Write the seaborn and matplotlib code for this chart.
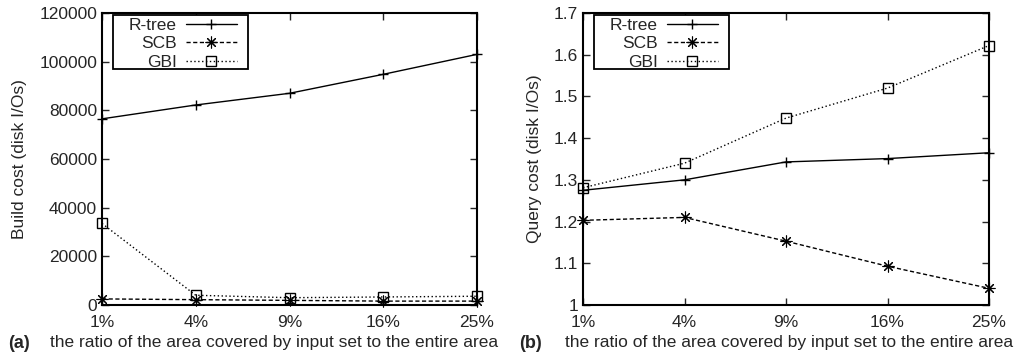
import numpy as np
import matplotlib
matplotlib.use("Agg")
import matplotlib.pyplot as plt
import matplotlib.patches as mpatches
from matplotlib.ticker import FuncFormatter, MultipleLocator
import seaborn as sns

# ── data ────────────────────────────────────────────────────────────
ratios = ["1%", "4%", "9%", "16%", "25%"]
methods = ["R-tree", "SCB", "GBI"]

build_rtree = [76500, 82200, 87000, 94800, 103000]
build_scb = [2500, 2200, 1900, 1600, 1600]
build_gbi = [33500, 4000, 3000, 3300, 3600]

query_rtree = [1.275, 1.300, 1.343, 1.351, 1.365]
query_scb = [1.203, 1.210, 1.153, 1.093, 1.040]
query_gbi = [1.281, 1.340, 1.448, 1.520, 1.622]

# ── style ───────────────────────────────────────────────────────────
sns.set_style("ticks")
plt.rcParams["font.family"] = ["Liberation Sans", "DejaVu Sans"]
plt.rcParams["font.size"] = 12.5

STYLES = {
    "R-tree": dict(marker="+", linestyle="-", ms=7.5, mew=1.0),
    "SCB": dict(marker=(8, 2, 0), linestyle=(0, (3, 1.8)), ms=8.5, mew=0.8),
    "GBI": dict(marker="s", linestyle=(0, (1, 1.8)), ms=7, mew=1.0, mfc="none"),
}

W, H = 1019, 357
fig = plt.figure(figsize=(W / 100, H / 100), dpi=100)
TOP, BOT = 13, 305
ax1 = fig.add_axes([102 / W, (H - BOT) / H, (477 - 102) / W, (BOT - TOP) / H])
ax2 = fig.add_axes([583 / W, (H - BOT) / H, (989 - 583) / W, (BOT - TOP) / H])

pos = np.arange(len(ratios))


def draw(ax, width_px, series, ylim, step, ylabel, fmt, label_x):
    for name, vals in zip(methods, series):
        sns.lineplot(x=pos, y=vals, ax=ax, color="black", lw=1.0,
                     mec="black", label=name, clip_on=False,
                     zorder=3, **STYLES[name])
    ax.set_xlim(0, len(ratios) - 1)
    ax.set_ylim(*ylim)
    ax.set_xticks(pos)
    ax.set_xticklabels(ratios)
    ax.yaxis.set_major_locator(MultipleLocator(step))
    ax.yaxis.set_major_formatter(FuncFormatter(fmt))
    ax.tick_params(direction="in", top=True, right=True, length=5,
                   width=1.0, labelsize=12.5)
    ax.tick_params(axis="x", pad=7)
    ax.tick_params(axis="y", pad=3.5)
    for sp in ax.spines.values():
        sp.set_linewidth(1.5)
        sp.set_color("black")
    ax.set_ylabel(ylabel, fontsize=12.5)
    ax.set_xlabel("")
    ax.yaxis.set_label_coords(label_x, 0.5)

    # pixel offsets (from the axes' top-left corner) -> axes fractions
    fx = lambda px: px / width_px
    fy = lambda py: 1 - (py - TOP) / (BOT - TOP)

    leg = ax.legend(loc="upper right", bbox_to_anchor=(fx(135), fy(18)),
                    markerfirst=False, frameon=False, fontsize=12.5,
                    handlelength=2.95, handletextpad=0.5, borderpad=0,
                    labelspacing=0.18, borderaxespad=0)
    ax.add_patch(mpatches.Rectangle((fx(11), fy(69)), fx(135) - fx(0),
                                    fy(15) - fy(69), transform=ax.transAxes,
                                    facecolor="white", edgecolor="black",
                                    lw=1.3, zorder=4, clip_on=False))
    leg.set_zorder(5)


draw(ax1, 375, [build_rtree, build_scb, build_gbi], (0, 120000), 20000,
     "Build cost (disk I/Os)", lambda v, p: f"{v:.0f}", -0.2)
draw(ax2, 406, [query_rtree, query_scb, query_gbi], (1.0, 1.7), 0.1,
     "Query cost (disk I/Os)", lambda v, p: f"{v:g}", -0.101)

cap_y = 1 - 343 / H
fig.text(8 / W, cap_y, "(a)", fontweight="bold", fontsize=13, va="center")
fig.text(50 / W, cap_y, "the ratio of the area covered by input set to the entire area",
         fontsize=12.5, va="center")
fig.text(519 / W, cap_y, "(b)", fontweight="bold", fontsize=13, va="center")
fig.text(565 / W, cap_y, "the ratio of the area covered by input set to the entire area",
         fontsize=12.5, va="center")

fig.savefig("out.png", dpi=100)
plt.close(fig)
